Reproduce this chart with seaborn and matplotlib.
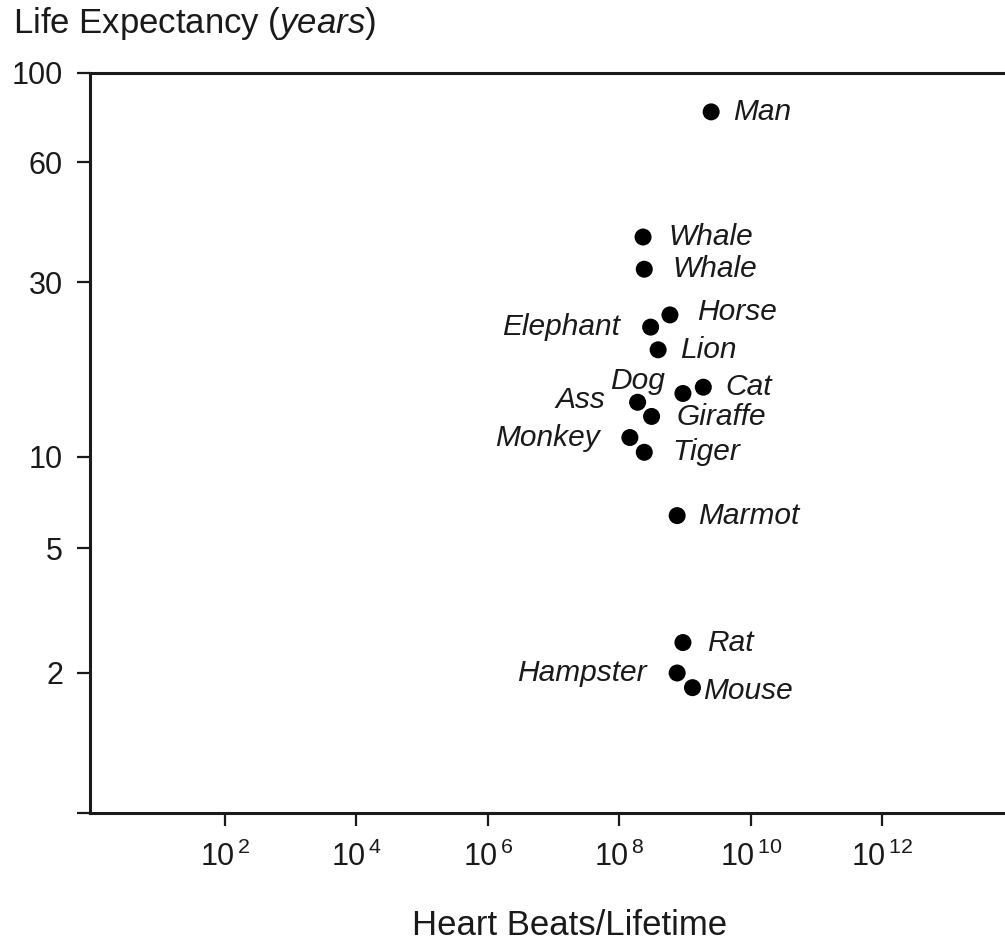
import numpy as np
import pandas as pd
import matplotlib
matplotlib.use('Agg')
import matplotlib.pyplot as plt
import seaborn as sns
from matplotlib.ticker import FixedLocator, FixedFormatter, FuncFormatter, NullLocator

# values
animals = ['Man', 'Whale', 'Whale', 'Horse', 'Elephant', 'Lion', 'Dog', 'Cat',
           'Ass', 'Giraffe', 'Monkey', 'Tiger', 'Marmot', 'Rat', 'Hampster', 'Mouse']
heart_beats = [2.5e9, 2.3e8, 2.4e8, 5.9e8, 3.0e8, 3.9e8, 9.3e8, 1.9e9,
               1.9e8, 3.1e8, 1.45e8, 2.4e8, 7.6e8, 9.3e8, 7.6e8, 1.3e9]
life_years = [80, 38.9, 32.3, 24.4, 22.6, 19.6, 14.9, 15.5,
              14.1, 12.9, 11.3, 10.3, 6.4, 2.5, 2.0, 1.86]

y_ticks = [1, 2, 5, 10, 30, 60, 100]
y_tick_labels = ['', '2', '5', '10', '30', '60', '100']
x_ticks = [1e2, 1e4, 1e6, 1e8, 1e10, 1e12]

# label placement (pixels from the dot) and alignment
label_offsets = {
    0: (22, 0, 'left'), 1: (25, 0, 'left'), 2: (28, 0, 'left'), 3: (27, 3, 'left'),
    4: (-31, 0, 'right'), 5: (22, 0, 'left'), 6: (-18, 12, 'right'), 7: (22, 0, 'left'),
    8: (-32, 2, 'right'), 9: (25, -1, 'left'), 10: (-30, 0, 'right'), 11: (28, 0, 'left'),
    12: (21, 0, 'left'), 13: (24, 0, 'left'), 14: (-30, 0, 'right'), 15: (11, -3, 'left'),
}

# the original y axis is hand spaced: height of each y tick above the x axis
y_tick_height = [0, 140, 265, 356, 531, 651, 740]
scale_logs = np.log10([0.01] + y_ticks + [1e4])
scale_pos = np.array([-930] + y_tick_height + [1542], dtype=float)


def y_forward(v):
    v = np.clip(np.asarray(v, dtype=float), 1e-6, None)
    return np.interp(np.log10(v), scale_logs, scale_pos)


def y_inverse(p):
    return 10 ** np.interp(p, scale_pos, scale_logs)


df = pd.DataFrame({'animal': animals, 'beats': heart_beats, 'years': life_years})

sns.set_style('ticks')
plt.rcParams['font.family'] = ['Liberation Sans', 'DejaVu Sans']
plt.rcParams['mathtext.fontset'] = 'custom'
plt.rcParams['mathtext.rm'] = 'Liberation Sans'
plt.rcParams['mathtext.it'] = 'Liberation Sans:italic'

ink = '#1a1a1a'
fig = plt.figure(figsize=(10.05, 9.41), dpi=100)
ax = fig.add_axes([90 / 1005, (941 - 813) / 941, (1005 - 90) / 1005, 740 / 941])

ax.set_xscale('log')
ax.set_yscale('function', functions=(y_forward, y_inverse))

sns.scatterplot(data=df, x='beats', y='years', s=150, color='black',
                edgecolor='none', ax=ax, zorder=3)

for i, row in df.iterrows():
    dx, dy, ha = label_offsets[i]
    ax.annotate(row['animal'], (row['beats'], row['years']), xytext=(dx, dy),
                textcoords='offset pixels', ha=ha, va='center', fontsize=21.5,
                style='italic', color=ink)

ax.set_xlim(10 ** -0.055, 10 ** 13.87)
ax.set_ylim(1, 100)

ax.xaxis.set_major_locator(FixedLocator(x_ticks))
ax.xaxis.set_major_formatter(FuncFormatter(lambda v, p: r'$10^{\,%d}$' % round(np.log10(v))))
ax.xaxis.set_minor_locator(NullLocator())
ax.yaxis.set_major_locator(FixedLocator(y_ticks))
ax.yaxis.set_major_formatter(FixedFormatter(y_tick_labels))
ax.yaxis.set_minor_locator(NullLocator())

ax.tick_params(axis='both', direction='out', length=9.5, width=1.6, color=ink,
               labelsize=22, labelcolor=ink)
ax.tick_params(axis='y', pad=10)
ax.tick_params(axis='x', pad=11)

ax.spines['right'].set_visible(False)
for side in ['left', 'bottom', 'top']:
    ax.spines[side].set_linewidth(2.2)
    ax.spines[side].set_color(ink)

ax.set_xlabel('')
ax.set_ylabel('')
fig.text(13 / 1005, (941 - 33) / 941, r'Life Expectancy ($\mathit{years}$)',
         fontsize=25, ha='left', va='baseline', color=ink)
fig.text(570 / 1005, (941 - 935) / 941, 'Heart Beats/Lifetime',
         fontsize=25, ha='center', va='baseline', color=ink)

fig.savefig('out.png', dpi=100)
